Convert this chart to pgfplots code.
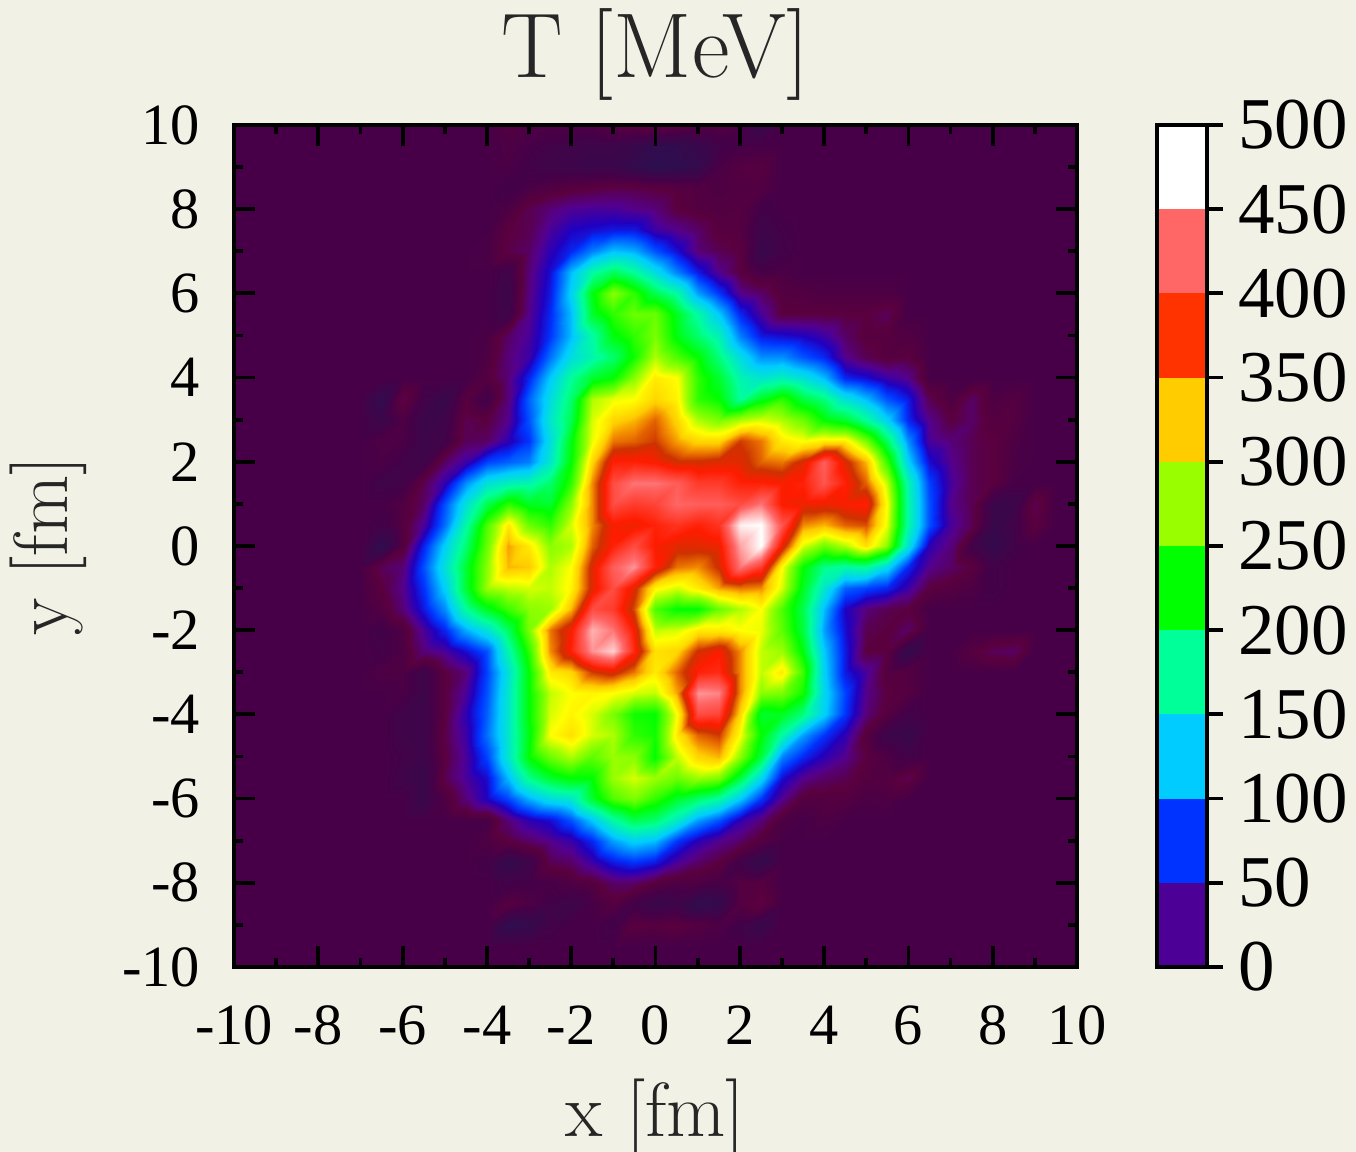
\documentclass[border=0pt]{standalone}
\usepackage{fontspec}
\usepackage{pgfplots}
\pgfplotsset{compat=1.18}
\newfontfamily\tickf{Liberation Serif}
\definecolor{bgc}{RGB}{241,241,230}
\definecolor{c0}{RGB}{77,0,149}
\definecolor{c1}{RGB}{0,51,255}
\definecolor{c2}{RGB}{0,204,255}
\definecolor{c3}{RGB}{0,255,153}
\definecolor{c4}{RGB}{0,255,0}
\definecolor{c5}{RGB}{153,255,0}
\definecolor{c6}{RGB}{255,204,0}
\definecolor{c7}{RGB}{255,51,0}
\definecolor{c8}{RGB}{255,102,102}
\definecolor{c9}{RGB}{255,255,255}
\begin{document}
\begin{tikzpicture}[x=1pt,y=1pt]
\useasboundingbox (0,0) rectangle (678,576);
\fill[bgc] (0,0) rectangle (678,576);
\begin{axis}[
  at={(117pt,92.5pt)},anchor=south west,
  scale only axis,width=421.5pt,height=421pt,
  xmin=-10,xmax=10,ymin=-10,ymax=10,
  axis on top,
  axis line style={line width=1.9pt,black},
  major tick style={line width=1.9pt,black},
  minor tick style={line width=1.9pt,black},
  tick align=inside,
  major tick length=10.5pt,minor tick length=4.5pt,
  xtick={-10,-8,...,10},ytick={-10,-8,...,10},
  minor xtick={-9,-7,...,9},minor ytick={-9,-7,...,9},
  tick label style={font=\tickf\fontsize{29.2}{31}\selectfont,/pgf/number format/assume math mode=true},
  xticklabel style={yshift=-16pt},
  yticklabel style={xshift=-13.5pt},
  title={T [MeV]},
  title style={font=\fontsize{46}{50}\selectfont,text=black!85,at={(axis description cs:0.5,1)},anchor=south,yshift=6pt,inner sep=0pt},
  xlabel={x [fm]},
  xlabel style={font=\fontsize{38.4}{42}\selectfont,text=black!85,at={(axis description cs:0.5,0)},anchor=north,yshift=-56pt,inner sep=0pt},
  ylabel={y [fm]},
  ylabel style={font=\fontsize{38.4}{42}\selectfont,text=black!85,at={(axis description cs:0,0.5)},anchor=south,rotate=0,yshift=73.5pt,inner sep=0pt},
  colormap={tmap}{rgb255(0pt)=(42,16,80) rgb255(30pt)=(71,0,71) rgb255(45pt)=(90,0,62) rgb255(65pt)=(85,0,140) rgb255(85pt)=(32,0,192) rgb255(105pt)=(0,51,255) rgb255(155pt)=(0,204,255) rgb255(205pt)=(0,255,153) rgb255(255pt)=(0,255,0) rgb255(305pt)=(153,255,0) rgb255(330pt)=(255,255,0) rgb255(355pt)=(255,204,0) rgb255(372pt)=(240,130,0) rgb255(392pt)=(205,50,0) rgb255(412pt)=(255,28,0) rgb255(455pt)=(255,102,102) rgb255(505pt)=(255,255,255)},
  point meta min=-30,point meta max=475,
]
\addplot[surf,shader=interp,mesh/cols=41,point meta=explicit] table[row sep=\\,header=false,x expr={-10+0.5*mod(\coordindex,41)},y expr={10-0.5*floor(\coordindex/41)},meta index=0] {
0\\0\\0\\0\\0\\0\\0\\0\\0\\0\\0\\0\\0\\8\\5\\5\\5\\5\\12\\15\\18\\15\\10\\10\\5\\-15\\0\\0\\0\\0\\0\\0\\0\\0\\0\\0\\0\\0\\0\\0\\0\\
0\\0\\0\\0\\0\\0\\0\\0\\0\\0\\0\\0\\0\\5\\0\\-5\\-8\\-10\\-10\\-15\\-22\\-22\\-15\\-5\\0\\0\\0\\0\\0\\0\\0\\0\\0\\0\\0\\0\\0\\0\\0\\0\\0\\
0\\0\\0\\0\\0\\0\\0\\0\\0\\0\\0\\0\\0\\3\\-5\\-8\\-10\\-12\\-12\\-20\\-28\\-25\\-20\\3\\10\\12\\0\\0\\0\\0\\0\\0\\0\\0\\0\\0\\0\\0\\0\\0\\0\\
0\\0\\0\\0\\0\\0\\0\\0\\0\\0\\0\\0\\0\\-5\\3\\8\\12\\15\\18\\18\\15\\12\\8\\5\\8\\8\\0\\0\\0\\0\\0\\0\\0\\0\\0\\0\\0\\0\\0\\0\\0\\
0\\0\\0\\0\\0\\0\\0\\0\\0\\0\\0\\0\\0\\5\\20\\30\\38\\40\\40\\35\\30\\15\\10\\8\\10\\-3\\0\\0\\0\\0\\0\\0\\0\\0\\0\\0\\0\\0\\0\\0\\0\\
0\\0\\0\\0\\0\\0\\0\\0\\0\\0\\0\\0\\0\\15\\20\\40\\55\\60\\65\\65\\45\\35\\25\\12\\10\\-10\\-3\\0\\0\\0\\0\\0\\0\\0\\0\\0\\0\\0\\0\\0\\0\\
0\\0\\0\\0\\0\\0\\0\\0\\0\\0\\0\\0\\3\\18\\25\\50\\70\\100\\122\\115\\85\\60\\30\\20\\15\\-15\\-5\\0\\0\\0\\0\\0\\0\\0\\0\\0\\0\\0\\0\\0\\0\\
0\\0\\0\\0\\0\\0\\0\\0\\0\\0\\0\\0\\0\\-8\\30\\60\\120\\170\\195\\175\\140\\100\\65\\35\\15\\0\\3\\0\\0\\0\\0\\0\\0\\0\\0\\0\\0\\0\\0\\0\\0\\
0\\0\\0\\0\\0\\0\\0\\0\\0\\0\\0\\0\\0\\-12\\32\\65\\130\\220\\270\\240\\200\\170\\110\\75\\35\\25\\10\\8\\5\\5\\5\\5\\0\\0\\0\\0\\0\\0\\0\\0\\0\\
0\\0\\0\\0\\0\\0\\0\\0\\0\\0\\0\\0\\0\\-10\\35\\70\\120\\210\\240\\260\\260\\215\\170\\125\\70\\40\\15\\15\\15\\15\\15\\22\\0\\0\\0\\0\\0\\0\\0\\0\\0\\
0\\0\\0\\0\\0\\0\\0\\0\\0\\0\\0\\0\\3\\25\\40\\75\\120\\170\\220\\240\\265\\220\\190\\160\\100\\65\\60\\55\\45\\25\\12\\12\\8\\0\\0\\0\\0\\0\\0\\0\\0\\
0\\0\\0\\0\\0\\0\\0\\0\\0\\0\\0\\0\\5\\30\\45\\95\\140\\165\\190\\230\\280\\250\\225\\185\\140\\105\\105\\85\\70\\35\\20\\10\\15\\0\\0\\0\\0\\0\\0\\0\\0\\
0\\0\\0\\0\\0\\0\\0\\0\\0\\0\\0\\0\\10\\30\\70\\125\\175\\210\\225\\270\\310\\300\\240\\210\\165\\150\\160\\145\\120\\70\\60\\45\\35\\0\\0\\0\\0\\0\\0\\0\\0\\
0\\0\\0\\0\\0\\0\\0\\-22\\20\\-5\\-15\\12\\-5\\30\\90\\140\\190\\280\\295\\300\\320\\305\\240\\225\\175\\215\\240\\205\\185\\145\\120\\85\\65\\20\\5\\25\\5\\10\\0\\0\\0\\
0\\0\\0\\0\\0\\0\\0\\-12\\5\\-12\\-8\\20\\15\\35\\85\\150\\200\\290\\320\\330\\350\\320\\280\\265\\280\\290\\280\\260\\225\\210\\175\\130\\70\\35\\15\\25\\10\\10\\0\\0\\0\\
0\\0\\0\\0\\0\\0\\0\\5\\3\\-10\\-5\\22\\25\\50\\75\\140\\220\\295\\345\\350\\360\\335\\320\\320\\360\\345\\310\\300\\310\\310\\265\\195\\105\\40\\30\\20\\15\\5\\0\\0\\0\\
0\\0\\0\\0\\0\\0\\0\\3\\-5\\-8\\25\\45\\80\\90\\100\\150\\225\\320\\385\\385\\380\\365\\365\\370\\370\\350\\345\\370\\420\\370\\330\\245\\130\\60\\35\\20\\15\\3\\0\\0\\0\\
0\\0\\0\\0\\0\\0\\0\\-8\\-5\\20\\50\\105\\145\\160\\165\\190\\240\\340\\410\\430\\430\\420\\400\\400\\385\\385\\380\\385\\415\\385\\350\\285\\165\\80\\40\\20\\15\\0\\0\\0\\0\\
0\\0\\0\\0\\0\\0\\0\\0\\8\\25\\85\\145\\200\\240\\215\\210\\270\\340\\410\\400\\405\\425\\420\\420\\410\\430\\380\\375\\375\\380\\385\\300\\170\\85\\35\\20\\-12\\-12\\20\\0\\0\\
0\\0\\0\\0\\0\\0\\0\\-5\\10\\40\\95\\170\\250\\310\\260\\240\\290\\340\\380\\375\\385\\395\\385\\395\\470\\505\\415\\340\\330\\350\\355\\295\\170\\85\\40\\20\\-15\\-5\\15\\0\\0\\
0\\0\\0\\0\\0\\0\\0\\-25\\10\\70\\130\\190\\260\\335\\310\\270\\280\\350\\385\\410\\380\\370\\370\\375\\445\\480\\375\\290\\260\\280\\315\\270\\145\\50\\30\\-5\\-20\\-5\\0\\0\\0\\
0\\0\\0\\0\\0\\0\\0\\22\\30\\85\\145\\210\\270\\330\\325\\280\\300\\370\\420\\440\\385\\345\\340\\365\\430\\400\\300\\225\\180\\170\\175\\135\\70\\35\\25\\15\\-5\\0\\0\\0\\0\\
0\\0\\0\\0\\0\\0\\0\\15\\35\\75\\130\\210\\275\\285\\290\\285\\305\\370\\410\\370\\305\\290\\310\\335\\345\\340\\290\\215\\150\\90\\80\\70\\45\\15\\10\\5\\-5\\0\\0\\0\\0\\
0\\0\\0\\0\\0\\0\\0\\8\\30\\65\\105\\175\\215\\245\\270\\275\\330\\410\\400\\355\\250\\225\\225\\260\\280\\300\\250\\200\\120\\55\\30\\20\\15\\0\\0\\0\\0\\0\\0\\0\\0\\
0\\0\\0\\0\\0\\0\\0\\-5\\5\\40\\70\\115\\145\\195\\265\\345\\380\\450\\430\\380\\285\\290\\310\\310\\300\\295\\255\\205\\110\\60\\20\\15\\25\\0\\0\\0\\0\\0\\0\\0\\0\\
0\\0\\0\\0\\0\\0\\0\\-3\\5\\30\\40\\60\\85\\165\\240\\340\\385\\440\\460\\390\\315\\320\\365\\380\\340\\285\\275\\220\\125\\65\\15\\15\\-20\\0\\0\\12\\22\\25\\0\\0\\0\\
0\\0\\0\\0\\0\\0\\0\\5\\5\\-10\\15\\30\\80\\145\\225\\310\\320\\360\\370\\345\\310\\350\\385\\390\\340\\285\\310\\245\\130\\65\\40\\10\\10\\0\\0\\0\\0\\0\\0\\0\\0\\
0\\0\\0\\0\\0\\0\\0\\0\\3\\-10\\15\\40\\85\\150\\225\\285\\300\\305\\300\\290\\285\\335\\440\\435\\340\\270\\265\\230\\135\\80\\35\\15\\10\\0\\0\\0\\0\\0\\0\\0\\0\\
0\\0\\0\\0\\0\\0\\0\\0\\-8\\-10\\15\\50\\90\\150\\225\\290\\305\\290\\265\\230\\225\\300\\410\\405\\320\\210\\215\\185\\130\\75\\30\\10\\-5\\0\\0\\0\\0\\0\\0\\0\\0\\
0\\0\\0\\0\\0\\0\\0\\0\\-8\\-10\\18\\45\\95\\150\\220\\300\\315\\290\\280\\240\\230\\310\\350\\360\\300\\225\\170\\110\\75\\50\\10\\-10\\-15\\0\\0\\0\\0\\0\\0\\0\\0\\
0\\0\\0\\0\\0\\0\\0\\0\\-5\\-10\\15\\40\\80\\150\\225\\260\\280\\255\\275\\270\\225\\285\\320\\330\\270\\205\\100\\70\\50\\35\\15\\5\\-5\\0\\0\\0\\0\\0\\0\\0\\0\\
0\\0\\0\\0\\0\\0\\0\\0\\-8\\-15\\20\\40\\60\\120\\180\\210\\225\\225\\275\\290\\275\\260\\275\\265\\205\\135\\60\\35\\25\\20\\10\\10\\20\\0\\0\\0\\0\\0\\0\\0\\0\\
0\\0\\0\\0\\0\\0\\0\\0\\0\\-15\\5\\30\\55\\80\\115\\140\\150\\210\\250\\265\\240\\210\\190\\170\\125\\75\\35\\10\\10\\10\\3\\5\\0\\0\\0\\0\\0\\0\\0\\0\\0\\
0\\0\\0\\0\\0\\0\\0\\0\\0\\0\\0\\0\\0\\30\\50\\60\\85\\125\\170\\200\\190\\155\\110\\85\\50\\30\\5\\0\\5\\0\\0\\0\\0\\0\\0\\0\\0\\0\\0\\0\\0\\
0\\0\\0\\0\\0\\0\\0\\0\\0\\0\\0\\0\\5\\15\\25\\35\\45\\70\\110\\130\\120\\75\\50\\35\\25\\10\\0\\0\\0\\0\\0\\0\\0\\0\\0\\0\\0\\0\\0\\0\\0\\
0\\0\\0\\0\\0\\0\\0\\0\\0\\0\\0\\0\\-3\\-20\\-10\\20\\25\\45\\65\\75\\65\\40\\25\\15\\-5\\-20\\0\\0\\0\\0\\0\\0\\0\\0\\0\\0\\0\\0\\0\\0\\0\\
0\\0\\0\\0\\0\\0\\0\\0\\0\\0\\0\\0\\0\\-5\\-3\\0\\5\\10\\25\\25\\12\\5\\5\\0\\10\\12\\0\\0\\0\\0\\0\\0\\0\\0\\0\\0\\0\\0\\0\\0\\0\\
0\\0\\0\\0\\0\\0\\0\\0\\0\\0\\0\\0\\0\\12\\5\\-5\\-10\\0\\10\\-5\\-15\\-10\\-25\\-20\\10\\18\\0\\0\\0\\0\\0\\0\\0\\0\\0\\0\\0\\0\\0\\0\\0\\
0\\0\\0\\0\\0\\0\\0\\0\\0\\0\\0\\0\\0\\-25\\-20\\-5\\0\\0\\-5\\15\\12\\15\\10\\5\\-5\\-15\\0\\0\\0\\0\\0\\0\\0\\0\\0\\0\\0\\0\\0\\0\\0\\
0\\0\\0\\0\\0\\0\\0\\0\\0\\0\\0\\0\\0\\0\\0\\0\\0\\0\\0\\0\\0\\0\\0\\0\\0\\0\\0\\0\\0\\0\\0\\0\\0\\0\\0\\0\\0\\0\\0\\0\\0\\
0\\0\\0\\0\\0\\0\\0\\0\\0\\0\\0\\0\\0\\0\\0\\0\\0\\0\\0\\0\\0\\0\\0\\0\\0\\0\\0\\0\\0\\0\\0\\0\\0\\0\\0\\0\\0\\0\\0\\0\\0\\
};
\end{axis}
\begin{axis}[
  at={(578.5pt,92.5pt)},anchor=south west,
  scale only axis,width=25pt,height=421pt,
  xmin=0,xmax=1,ymin=0,ymax=500,
  axis on top,
  axis line style={line width=1.9pt,black},
  xtick=\empty,
  ytick={0,50,...,500},
  yticklabel pos=right,
  ytick pos=right,
  tick align=outside,
  major tick length=8pt,
  major tick style={line width=1.9pt,black},
  tick label style={font=\tickf\fontsize{36.5}{40}\selectfont,/pgf/number format/assume math mode=true},
  yticklabel style={xshift=4pt},
]
\addplot[draw=none,fill=c0] coordinates {(0,0)(1,0)(1,50)(0,50)} --cycle;
\addplot[draw=none,fill=c1] coordinates {(0,50)(1,50)(1,100)(0,100)} --cycle;
\addplot[draw=none,fill=c2] coordinates {(0,100)(1,100)(1,150)(0,150)} --cycle;
\addplot[draw=none,fill=c3] coordinates {(0,150)(1,150)(1,200)(0,200)} --cycle;
\addplot[draw=none,fill=c4] coordinates {(0,200)(1,200)(1,250)(0,250)} --cycle;
\addplot[draw=none,fill=c5] coordinates {(0,250)(1,250)(1,300)(0,300)} --cycle;
\addplot[draw=none,fill=c6] coordinates {(0,300)(1,300)(1,350)(0,350)} --cycle;
\addplot[draw=none,fill=c7] coordinates {(0,350)(1,350)(1,400)(0,400)} --cycle;
\addplot[draw=none,fill=c8] coordinates {(0,400)(1,400)(1,450)(0,450)} --cycle;
\addplot[draw=none,fill=c9] coordinates {(0,450)(1,450)(1,500)(0,500)} --cycle;
\end{axis}
\end{tikzpicture}
\end{document}
